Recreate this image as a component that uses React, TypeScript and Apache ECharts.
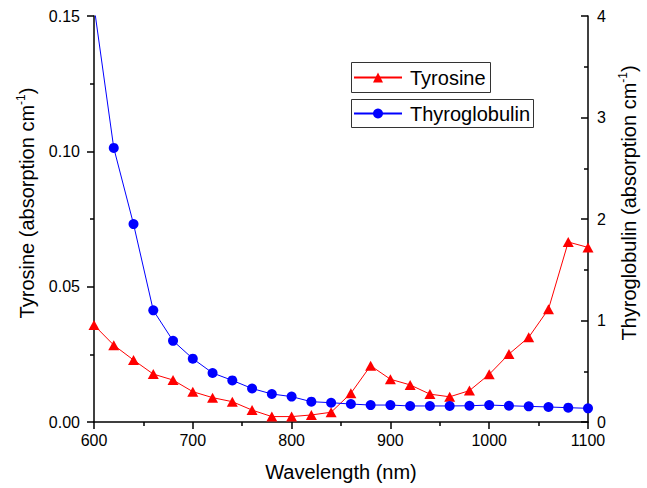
import React, { useEffect, useRef } from "react";
import * as echarts from "echarts";

const wavelengths = [600, 620, 640, 660, 680, 700, 720, 740, 760, 780, 800, 820, 840, 860, 880, 900, 920, 940, 960, 980, 1000, 1020, 1040, 1060, 1080, 1100];
const tyrosine = [0.0358, 0.0284, 0.0229, 0.0177, 0.0155, 0.0112, 0.0090, 0.0075, 0.0044, 0.0020, 0.0020, 0.0026, 0.0036, 0.0106, 0.0208, 0.0158, 0.0137, 0.0103, 0.0093, 0.0116, 0.0176, 0.0251, 0.0313, 0.0417, 0.0665, 0.0645];
const thyroglobulin = [4.1, 2.70, 1.95, 1.10, 0.80, 0.624, 0.483, 0.41, 0.33, 0.276, 0.25, 0.20, 0.19, 0.177, 0.167, 0.167, 0.158, 0.158, 0.158, 0.16, 0.167, 0.16, 0.154, 0.148, 0.141, 0.135];
const seriesNames = ["Tyrosine", "Thyroglobulin"];
const FONT = "'Liberation Sans', Arial, sans-serif";

export default function App() {
  const ref = useRef<HTMLDivElement>(null);
  useEffect(() => {
    document.body.style.margin = "0";
    const chart = echarts.init(ref.current!, null, { renderer: "svg" });
    const axisLine = { show: true, lineStyle: { color: "#000", width: 1.5 } };
    const richName = {
      a: { fontSize: 20, fontFamily: FONT, color: "#000", lineHeight: 22, verticalAlign: "bottom" },
      s: { fontSize: 12, fontFamily: FONT, color: "#000", lineHeight: 12, verticalAlign: "top" },
    };
    const legendCommon = {
      orient: "horizontal",
      left: 353,
      padding: 0,
      itemWidth: 48,
      itemHeight: 12.5,
      itemGap: 0,
      selectedMode: false,
      textStyle: { fontSize: 20, fontFamily: FONT, color: "#000", lineHeight: 22, padding: [0, 0, 0, 3] },
    };
    const boxStyle = { fill: "none", stroke: "#333", lineWidth: 1 };
    chart.setOption({
      animation: false,
      backgroundColor: "#fff",
      grid: { left: 94, right: 47, top: 16, bottom: 66, containLabel: false },
      graphic: [
        { type: "rect", shape: { x: 351.5, y: 62.5, width: 139, height: 30 }, style: boxStyle, silent: true },
        { type: "rect", shape: { x: 351.5, y: 99.5, width: 182, height: 28 }, style: boxStyle, silent: true },
      ],
      legend: [
        { ...legendCommon, top: 66.5, data: [seriesNames[0]] },
        { ...legendCommon, top: 102.5, data: [seriesNames[1]] },
      ],
      xAxis: {
        type: "value",
        min: 600,
        max: 1100,
        interval: 100,
        name: "Wavelength (nm)",
        nameLocation: "middle",
        nameGap: 40,
        nameTextStyle: { fontSize: 20, fontFamily: FONT, color: "#000" },
        axisLine,
        axisTick: { show: true, length: 7, inside: false, lineStyle: { color: "#000", width: 1.5 } },
        minorTick: { show: true, splitNumber: 2, length: 4, lineStyle: { color: "#000", width: 1.5 } },
        axisLabel: { fontSize: 16, fontFamily: FONT, color: "#000", margin: 10, formatter: (v: number) => String(v) },
        splitLine: { show: false },
      },
      yAxis: [
        {
          type: "value",
          position: "left",
          min: 0,
          max: 0.15,
          interval: 0.05,
          name: "{a|Tyrosine (absorption cm}{s|-1}{a|)}",
          nameLocation: "middle",
          nameRotate: 90,
          nameGap: 57,
          nameTextStyle: { rich: richName, padding: [0, 0, 0, 32] },
          axisLine,
          axisTick: { show: true, length: 7, inside: false, lineStyle: { color: "#000", width: 1.5 } },
          minorTick: { show: true, splitNumber: 2, length: 4, lineStyle: { color: "#000", width: 1.5 } },
          axisLabel: { fontSize: 16, fontFamily: FONT, color: "#000", margin: 14, formatter: (v: number) => v.toFixed(2) },
          splitLine: { show: false },
        },
        {
          type: "value",
          position: "right",
          min: 0,
          max: 4,
          interval: 1,
          name: "{a|Thyroglobulin (absorption cm}{s|-1}{a|)}",
          nameLocation: "middle",
          nameRotate: 90,
          nameGap: 29,
          nameTextStyle: { rich: richName, padding: [0, 0, 0, 32] },
          axisLine,
          axisTick: { show: true, length: 7, inside: true, lineStyle: { color: "#000", width: 1.5 } },
          minorTick: { show: true, splitNumber: 2, length: 4, lineStyle: { color: "#000", width: 1.5 } },
          axisLabel: { fontSize: 16, fontFamily: FONT, color: "#000", margin: 9 },
          splitLine: { show: false },
        },
      ],
      series: [
        {
          name: seriesNames[0],
          type: "line",
          yAxisIndex: 0,
          data: wavelengths.map((w, i) => [w, tyrosine[i]]),
          symbol: "triangle",
          symbolSize: [11, 10],
          clip: true,
          itemStyle: { color: "#ff0000" },
          lineStyle: { color: "#ff0000", width: 1 },
        },
        {
          name: seriesNames[1],
          type: "line",
          yAxisIndex: 1,
          data: wavelengths.map((w, i) => [w, thyroglobulin[i]]),
          symbol: "circle",
          symbolSize: 10,
          clip: true,
          itemStyle: { color: "#0000ff" },
          lineStyle: { color: "#0000ff", width: 1 },
        },
      ],
    });
    return () => chart.dispose();
  }, []);
  return <div ref={ref} style={{ position: "fixed", left: 0, top: 0, width: 647, height: 488 }} />;
}
